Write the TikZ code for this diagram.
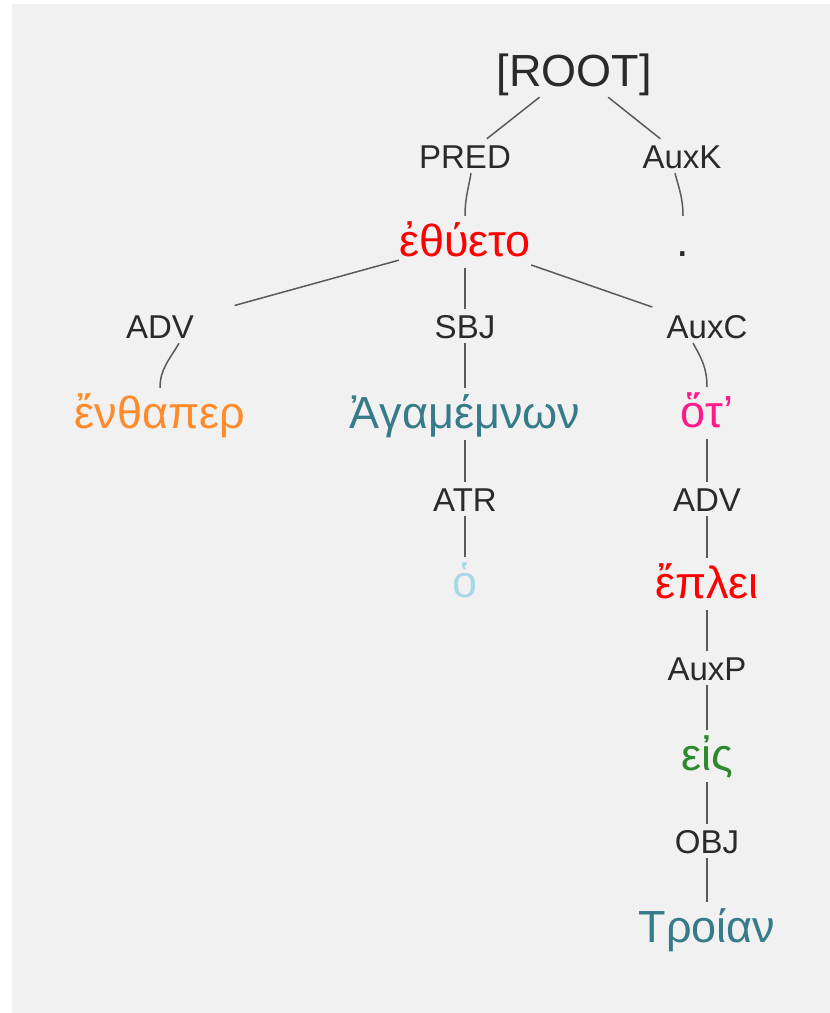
\documentclass[tikz,border=0pt]{standalone}
\usepackage{fontspec}
\setmainfont{Liberation Sans}
\definecolor{bggray}{HTML}{F1F1F1}
\definecolor{labelc}{HTML}{2A2A2A}
\definecolor{linec}{HTML}{5A5A5A}
\definecolor{wred}{HTML}{FF0000}
\definecolor{worange}{HTML}{FF8A2A}
\definecolor{wteal}{HTML}{367B8A}
\definecolor{wpink}{HTML}{FF1A8C}
\definecolor{wlblue}{HTML}{A8D8E8}
\definecolor{wgreen}{HTML}{2C8A2C}
\tikzset{
  rel/.style={font=\fontsize{33pt}{40pt}\selectfont, text=labelc, text height=24pt, text depth=0pt, inner sep=0pt, minimum height=34pt},
  rootnode/.style={font=\fontsize{45pt}{54pt}\selectfont, text=labelc, text height=33pt, text depth=0pt, inner sep=0pt, minimum height=54pt},
  word/.style={font=\fontsize{45pt}{54pt}\selectfont, text height=40pt, text depth=12pt, inner sep=0pt, anchor=base},
  edge/.style={draw=linec, line width=1.5pt}
}
\begin{document}
\begin{tikzpicture}[x=1pt,y=1pt]
\fill[white] (0,0) rectangle (830,-1013);
\fill[bggray] (12,-4) rectangle (830,-1013);
\useasboundingbox (0,0) rectangle (830,-1013);

\node[rootnode] (root) at (574,-70) {[ROOT]};
\node[rel] (pred) at (465,-156) {PRED};
\node[rel] (auxk) at (682,-156) {AuxK};
\node[word, text=wred] (eth) at (465,-256) {ἐθύετο};
\node[word, text=labelc] (dot) at (683,-256) {.};
\node[rel] (adv1) at (160,-326) {ADV};
\node[rel] (sbj) at (465,-326) {SBJ};
\node[rel] (auxc) at (707,-326) {AuxC};
\node[word, text=worange] (enth) at (160,-428) {ἔνθαπερ};
\node[word, text=wteal] (agam) at (465,-428) {Ἀγαμέμνων};
\node[word, text=wpink] (hot) at (707,-427) {ὅτ’};
\node[rel] (atr) at (465,-499) {ATR};
\node[rel] (adv2) at (707,-499) {ADV};
\node[word, text=wlblue] (ho) at (465,-597) {ὁ};
\node[word, text=wred] (eplei) at (707,-598) {ἔπλει};
\node[rel] (auxp) at (707,-668) {AuxP};
\node[word, text=wgreen] (eis) at (707,-770) {εἰς};
\node[rel] (obj) at (707,-841) {OBJ};
\node[word, text=wteal] (troian) at (707,-942) {Τροίαν};

\draw[edge] (root) -- (pred);
\draw[edge] (root) -- (auxk);
\draw[edge] ([xshift=6pt]pred.south) to[out=-100,in=90] (eth.north);
\draw[edge] ([xshift=-7pt]auxk.south) to[out=-75,in=90] (dot.north);
\draw[edge, shorten >=42pt] (eth) -- (adv1);
\draw[edge] (eth) -- (sbj);
\draw[edge, shorten >=15pt] (eth) -- (auxc);
\draw[edge] ([xshift=19pt]adv1.south) to[out=-120,in=90] (enth.north);
\draw[edge] (sbj) -- (agam);
\draw[edge] ([xshift=-14pt]auxc.south) to[out=-60,in=90] (hot.north);
\draw[edge] (agam) -- (atr);
\draw[edge] (atr) -- (ho);
\draw[edge] (hot) -- (adv2);
\draw[edge] (adv2) -- (eplei);
\draw[edge] (eplei) -- (auxp);
\draw[edge] (auxp) -- (eis);
\draw[edge] (eis) -- (obj);
\draw[edge] (obj) -- (troian);
\end{tikzpicture}
\end{document}
